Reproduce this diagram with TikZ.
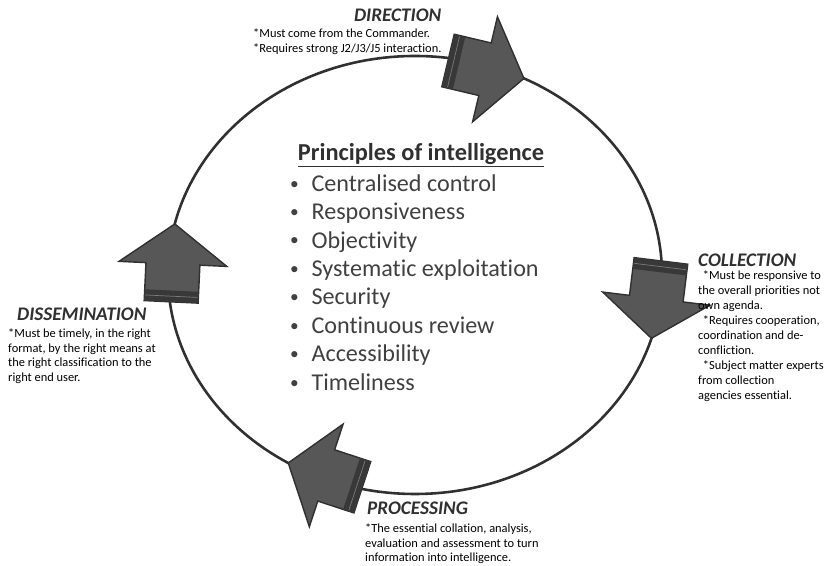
\documentclass[tikz,border=0pt]{standalone}
\usepackage{fontspec}
\setmainfont{Carlito}[Ligatures=NoCommon]
\usetikzlibrary{shapes.geometric}
\usepackage{xcolor}
\definecolor{linegray}{HTML}{303030}
\definecolor{arrowgray}{HTML}{575757}
\definecolor{bandgray}{HTML}{383838}
\definecolor{stripegray}{HTML}{7A7A7A}
\definecolor{listgray}{HTML}{404040}

\begin{document}
\begin{tikzpicture}[
  heading/.style={text=linegray, font=\fontsize{16.4}{18}\selectfont\bfseries\itshape, inner sep=0pt},
  note/.style={text=black, font=\fontsize{10.6}{12.4}\selectfont, align=left, anchor=north west, inner sep=0pt},
  cyclearrow/.pic={
    \filldraw[fill=arrowgray, draw=linegray, line width=1.2pt, line join=miter]
      (0,0) -- (-1.2,1.62) -- (-1.2,0.81) -- (-2.34,0.81) -- (-2.34,-0.81) -- (-1.2,-0.81) -- (-1.2,-1.62) -- cycle;
    \fill[bandgray] (-2.34,-0.81) rectangle (-2.0,0.81);
    \draw[stripegray, line width=0.6pt] (-2.17,-0.78) -- (-2.17,0.78);
    \coordinate (-tip) at (0,0);
  }
]

  \useasboundingbox (0,0) rectangle (25.05,16.98);

  % the cycle
  \node[ellipse, draw=linegray, line width=2.2pt, minimum width=14.82cm, minimum height=13.14cm, inner sep=0pt, outer sep=0pt] (Cy) at (12.45,8.73) {};

  \pic[rotate=-13.3] (DiAr) at (Cy.61) {cyclearrow};
  \pic[rotate=-97] (CoAr) at (Cy.345) {cyclearrow};
  \pic[rotate=161.8] (PrAr) at (Cy.236) {cyclearrow};
  \pic[rotate=87.3] (DsAr) at (Cy.168) {cyclearrow};

  % centre list
  \node[font=\fontsize{20.8}{24}\selectfont\bfseries, text=linegray, inner sep=0pt] (PrIn) at (12.63,12.33) {\underline{Principles of intelligence}};
  \node[font=\fontsize{20.6}{24.25}\selectfont, text=listgray, align=left, anchor=north west, inner sep=0pt] (PrLi) at (8.7,11.75)
    {\makebox[0.64cm][l]{\raisebox{0.09em}{\scalebox{0.72}{\textbullet}}}Centralised control\\
     \makebox[0.64cm][l]{\raisebox{0.09em}{\scalebox{0.72}{\textbullet}}}Responsiveness\\
     \makebox[0.64cm][l]{\raisebox{0.09em}{\scalebox{0.72}{\textbullet}}}Objectivity\\
     \makebox[0.64cm][l]{\raisebox{0.09em}{\scalebox{0.72}{\textbullet}}}Systematic exploitation\\
     \makebox[0.64cm][l]{\raisebox{0.09em}{\scalebox{0.72}{\textbullet}}}Security\\
     \makebox[0.64cm][l]{\raisebox{0.09em}{\scalebox{0.72}{\textbullet}}}Continuous review\\
     \makebox[0.64cm][l]{\raisebox{0.09em}{\scalebox{0.72}{\textbullet}}}Accessibility\\
     \makebox[0.64cm][l]{\raisebox{0.09em}{\scalebox{0.72}{\textbullet}}}Timeliness};

  % stages
  \node[heading] (DiHd) at (11.93,16.53) {DIRECTION};
  \node[note] (DiNo) at (7.59,16.12) {*Must come from the Commander.\\*Requires strong J2/J3/J5 interaction.};

  \node[heading, anchor=west] (CoHd) at (20.94,9.18) {COLLECTION};
  \node[note, font=\fontsize{10.6}{12.8}\selectfont] (CoNo) at (20.94,8.87) {\hspace*{4pt}*Must be responsive to\\the overall priorities not\\own agenda.\\
    \hspace*{4pt}*Requires cooperation,\\coordination and de-\\confliction.\\
    \hspace*{4pt}*Subject matter experts\\from collection\\agencies essential.};

  \node[heading, anchor=west] (PrHd) at (11.01,1.74) {PROCESSING};
  \node[note] (PrNo) at (10.95,1.27) {*The essential collation, analysis,\\evaluation and assessment to turn\\information into intelligence.};

  \node[heading, anchor=west] (DsHd) at (0.51,7.56) {DISSEMINATION};
  \node[note] (DsNo) at (0.24,7.12) {*Must be timely, in the right\\format, by the right means at\\the right classification to the\\right end user.};

\end{tikzpicture}
\end{document}
